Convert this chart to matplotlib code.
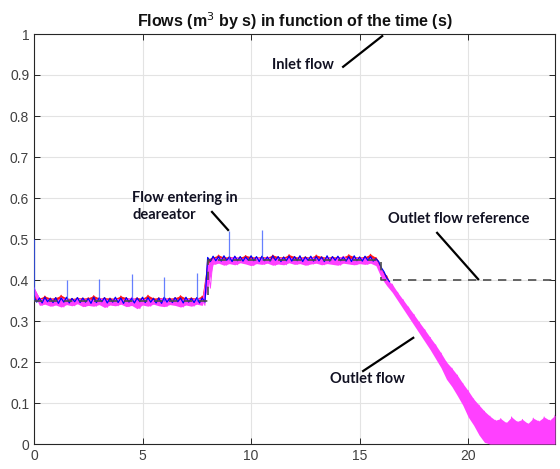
import numpy as np
import matplotlib
matplotlib.use("Agg")
import matplotlib.pyplot as plt

# ---------------- data ----------------
t = np.arange(0, 24.001, 0.25)          # sample times (s)

mag_hi = [0.382, 0.356, 0.353, 0.355, 0.351, 0.357, 0.354, 0.352, 0.356, 0.353, 0.355, 0.351,
          0.357, 0.354, 0.352, 0.356, 0.353, 0.355, 0.358, 0.352, 0.354, 0.356, 0.351, 0.355,
          0.357, 0.353, 0.354, 0.352, 0.356, 0.353, 0.357, 0.354,
          0.440, 0.453, 0.456, 0.452, 0.455, 0.458, 0.453, 0.454, 0.452, 0.456, 0.453, 0.457,
          0.452, 0.455, 0.454, 0.456, 0.452, 0.455, 0.453, 0.457, 0.454, 0.452, 0.456, 0.453,
          0.455, 0.458, 0.452, 0.454, 0.456, 0.453, 0.455,
          0.450, 0.425, 0.402, 0.390, 0.370, 0.352, 0.334, 0.316, 0.297, 0.279, 0.260, 0.242,
          0.222, 0.200, 0.185, 0.168, 0.148, 0.130, 0.110, 0.095, 0.080, 0.068, 0.058, 0.062,
          0.052, 0.066, 0.055, 0.060, 0.050, 0.063, 0.056, 0.066, 0.058, 0.070]
mag_lo = [0.365, 0.338, 0.341, 0.336, 0.339, 0.334, 0.340, 0.337, 0.342, 0.335, 0.338, 0.336,
          0.340, 0.333, 0.339, 0.337, 0.341, 0.335, 0.338, 0.330, 0.339, 0.336, 0.341, 0.337,
          0.335, 0.340, 0.338, 0.334, 0.339, 0.336, 0.341, 0.338,
          0.380, 0.438, 0.441, 0.436, 0.440, 0.437, 0.442, 0.439, 0.435, 0.440, 0.438, 0.441,
          0.436, 0.439, 0.437, 0.442, 0.438, 0.440, 0.436, 0.439, 0.441, 0.437, 0.440, 0.438,
          0.436, 0.441, 0.439, 0.437, 0.440, 0.438, 0.441,
          0.435, 0.405, 0.386, 0.370, 0.350, 0.330, 0.310, 0.290, 0.270, 0.250, 0.230, 0.208,
          0.186, 0.158, 0.140, 0.118, 0.095, 0.066, 0.046, 0.022, 0.004, 0.0,
          0.0, 0.0, 0.0, 0.0, 0.0, 0.0, 0.0, 0.0, 0.0, 0.0, 0.0, 0.0]

blue_hi = [0.357, 0.356, 0.358, 0.355, 0.357, 0.356, 0.358, 0.355, 0.357, 0.356, 0.355, 0.358,
           0.356, 0.357, 0.355, 0.358, 0.356, 0.357, 0.355, 0.356, 0.358, 0.357, 0.355, 0.356,
           0.358, 0.355, 0.357, 0.356, 0.358, 0.355, 0.357, 0.356,
           0.455, 0.458, 0.457, 0.459, 0.456, 0.458, 0.457, 0.456, 0.459, 0.457, 0.458, 0.456,
           0.459, 0.457, 0.456, 0.458, 0.457, 0.459, 0.456, 0.458, 0.457, 0.456, 0.459, 0.457,
           0.458, 0.456, 0.457, 0.459, 0.456, 0.458, 0.457,
           0.452, 0.430, 0.405]
blue_lo = [0.346, 0.344, 0.347, 0.345, 0.343, 0.346, 0.344, 0.347, 0.345, 0.346, 0.343, 0.345,
           0.347, 0.344, 0.346, 0.345, 0.343, 0.346, 0.344, 0.347, 0.345, 0.346, 0.344, 0.343,
           0.346, 0.345, 0.347, 0.344, 0.346, 0.345, 0.344, 0.346,
           0.445, 0.447, 0.446, 0.448, 0.445, 0.447, 0.446, 0.448, 0.447, 0.445, 0.447, 0.446,
           0.448, 0.445, 0.447, 0.446, 0.447, 0.445, 0.448, 0.446, 0.447, 0.445, 0.446, 0.448,
           0.447, 0.446, 0.445, 0.447, 0.446, 0.448, 0.446,
           0.445, 0.420, 0.396]

red_hi = [0.380, 0.356, 0.361, 0.356, 0.357, 0.363, 0.356, 0.355, 0.357, 0.356, 0.357, 0.362,
          0.356, 0.357, 0.356, 0.356, 0.361, 0.357, 0.355, 0.357, 0.356, 0.363, 0.356, 0.357,
          0.356, 0.356, 0.357, 0.362, 0.356, 0.357, 0.356, 0.361,
          0.452, 0.456, 0.461, 0.456, 0.457, 0.456, 0.456, 0.460, 0.457, 0.456, 0.457, 0.456,
          0.461, 0.457, 0.456, 0.462, 0.457, 0.456, 0.457, 0.456, 0.461, 0.457, 0.456, 0.457,
          0.456, 0.457, 0.462, 0.457, 0.456, 0.457, 0.463,
          0.455, 0.425, 0.410]
red_lo = [0.352, 0.349, 0.350, 0.348, 0.351, 0.349, 0.350, 0.348, 0.351, 0.349, 0.350, 0.348,
          0.351, 0.349, 0.350, 0.348, 0.351, 0.349, 0.350, 0.348, 0.351, 0.349, 0.350, 0.348,
          0.351, 0.349, 0.350, 0.348, 0.351, 0.349, 0.350, 0.348,
          0.440, 0.449, 0.450, 0.448, 0.451, 0.449, 0.450, 0.448, 0.451, 0.449, 0.450, 0.448,
          0.451, 0.449, 0.450, 0.448, 0.451, 0.449, 0.450, 0.448, 0.451, 0.449, 0.450, 0.448,
          0.451, 0.449, 0.450, 0.448, 0.451, 0.449, 0.450,
          0.445, 0.415, 0.395]

spike_t = [0.0, 1.5, 3.0, 4.5, 6.0, 7.5, 9.0, 10.5]
spike_base = [0.35, 0.35, 0.35, 0.35, 0.35, 0.35, 0.45, 0.45]
spike_top = [0.50, 0.400, 0.403, 0.415, 0.407, 0.417, 0.520, 0.523]

ref_t = [0, 8, 16, 24]
ref_y = [0.35, 0.45, 0.40, 0.40]

xticks = [0, 5, 10, 15, 20]
yticks = [0, 0.1, 0.2, 0.3, 0.4, 0.5, 0.6, 0.7, 0.8, 0.9, 1]
ytick_labels = ["0", "0.1", "0.2", "0.3", "0.4", "0.5", "0.6", "0.7", "0.8", "0.9", "1"]

# ---------------- figure ----------------
plt.rcParams['font.family'] = ['Liberation Sans', 'DejaVu Sans']
fig = plt.figure(figsize=(5.6, 4.69), dpi=100)
ax = fig.add_axes([34/560, 25/469, 521/560, 410/469])


def zig(tt, hi, lo):
    n = len(hi)
    tt = np.asarray(tt[:n])
    x = np.column_stack([tt, tt + 0.125]).ravel()
    y = np.column_stack([hi, lo]).ravel()
    return x, y


def band(tt, hi, lo, color, z, lw):
    n = len(hi)
    ax.fill_between(tt[:n], lo, hi, color=color, lw=0, zorder=z)
    x, y = zig(tt, hi, lo)
    ax.plot(x, y, color=color, lw=lw, zorder=z)


band(t, red_hi, red_lo, '#ff1a1a', 2, 0.7)
band(t, mag_hi, mag_lo, '#ff40ff', 3, 0.7)
bx, by = zig(t, blue_hi, blue_lo)
ax.plot(bx, by, color='#0000ff', lw=0.9, zorder=4)
ax.vlines(spike_t, spike_base, spike_top, color='#3355ff', lw=0.9, alpha=0.75, zorder=4)

ax.step(ref_t, ref_y, where='post', color='#4d4d4d', lw=1.2, ls=(0, (5, 4)), zorder=5)

ax.set_xlim(0, 24)
ax.set_ylim(0, 1)
ax.set_xticks(xticks)
ax.set_yticks(yticks)
ax.set_yticklabels(ytick_labels)
ax.grid(True, color='#e3e3e3', lw=0.8)
ax.set_axisbelow(True)
ax.tick_params(direction='in', top=True, right=True, length=4, width=0.7,
               colors='#262626', labelsize=10, labelcolor='#404040')
for s in ax.spines.values():
    s.set_color('#262626')
    s.set_linewidth(0.8)

ax.set_title(r'Flows (m$^3$ by s) in function of the time (s)', fontsize=11.5,
             fontweight='bold', color='#111111', pad=5)

afont = dict(family=['Lato', 'DejaVu Sans'], fontweight='bold', fontsize=10.5, color='#111122')
ax.text(10.97, 0.924, 'Inlet flow', va='center', ha='left', **afont)
ax.plot([14.24, 16.04], [0.920, 0.995], color='k', lw=1.6, zorder=6)
ax.text(4.52, 0.579, 'Flow entering in\ndeareator', va='center', ha='left',
        linespacing=1.25, **afont)
ax.plot([8.20, 8.94], [0.566, 0.522], color='k', lw=1.6, zorder=6)
ax.text(16.31, 0.549, 'Outlet flow reference', va='center', ha='left', **afont)
ax.plot([18.57, 20.46], [0.515, 0.402], color='k', lw=1.6, zorder=6)
ax.text(13.64, 0.159, 'Outlet flow', va='center', ha='left', **afont)
ax.plot([15.16, 17.47], [0.178, 0.259], color='k', lw=1.6, zorder=6)

fig.savefig('out.png', dpi=100)
